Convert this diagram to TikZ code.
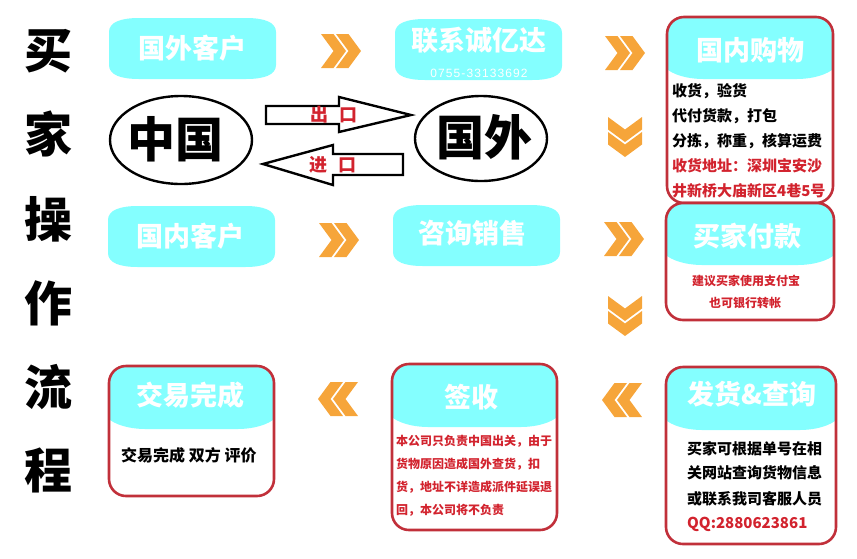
\documentclass[tikz,border=0pt]{standalone}
\usepackage{fontspec}
\setmainfont{Noto Sans CJK SC}
\newfontfamily\numfont[LetterSpace=9]{Liberation Sans}
\definecolor{cyanfill}{HTML}{84FFFF}
\definecolor{framered}{HTML}{C1303A}
\definecolor{textred}{HTML}{D2232E}
\definecolor{chevorange}{HTML}{F6A53A}
\tikzset{
  x=1pt,y=-1pt,
  headtext/.style={inner sep=0pt,text=white,font=\fontsize{27}{27}\selectfont\bfseries},
  titletext/.style={inner sep=0pt,font=\fontsize{48}{48}\selectfont\bfseries},
  bigtext/.style={inner sep=0pt,font=\fontsize{48}{48}\selectfont\bfseries},
  bodytext/.style={inner sep=0pt,anchor=west,font=\fontsize{15}{15}\selectfont\bfseries},
  smalltext/.style={inner sep=0pt,text=textred,font=\fontsize{12}{12}\selectfont\bfseries},
  porttext/.style={inner sep=0pt,text=textred,font=\fontsize{18}{18}\selectfont\bfseries},
  frameline/.style={draw=framered,line width=2.6pt,rounded corners=17pt},
  ringline/.style={draw=black,line width=2.4pt},
  portarrow/.style={draw=black,line width=2.4pt,fill=white,miter limit=10},
  dchev/.pic={
    \fill[chevorange] (-20,-17) -- (-7.5,-17) -- (5,0) -- (-7.5,17) -- (-20,17) -- (-7.5,0) -- cycle;
    \fill[chevorange] (-5,-17) -- (7.5,-17) -- (20,0) -- (7.5,17) -- (-5,17) -- (7.5,0) -- cycle;
  }
}
\newcommand{\pillshape}[4]{
  \fill[cyanfill] (#1,{#2+14}) .. controls (#1,{#2+4}) and ({#1+12},#2) .. ({#1+30},#2)
    -- ({#3-30},#2) .. controls ({#3-12},#2) and (#3,{#2+4}) .. (#3,{#2+14})
    -- (#3,{#4-14}) .. controls (#3,{#4-4}) and ({#3-12},#4) .. ({#3-30},#4)
    -- ({#1+30},#4) .. controls ({#1+12},#4) and (#1,{#4-4}) .. (#1,{#4-14}) -- cycle;
}
\newcommand{\headshape}[4]{
  \fill[cyanfill] (#1,{#4-9}) -- (#1,{#2+16}) .. controls (#1,{#2+6}) and ({#1+6},#2) .. ({#1+16},#2)
    -- ({#3-16},#2) .. controls ({#3-6},#2) and (#3,{#2+6}) .. (#3,{#2+16})
    -- (#3,{#4-9}) .. controls ({#3-10},{#4-2}) and ({#3-25},#4) .. ({#3-35},#4)
    -- ({#1+35},#4) .. controls ({#1+25},#4) and ({#1+10},{#4-2}) .. (#1,{#4-9}) -- cycle;
}
\begin{document}
\begin{tikzpicture}
\useasboundingbox (0,0) rectangle (857,558);
% side title
\node[titletext] (t1) at (48.5,51) {买};
\node[titletext] (t2) at (48.5,134) {家};
\node[titletext] (t3) at (48.5,219) {操};
\node[titletext] (t4) at (48.5,303) {作};
\node[titletext] (t5) at (48.5,387) {流};
\node[titletext] (t6) at (48.5,470) {程};
% pills
\pillshape{109}{18}{276}{79}
\node[headtext] (p1) at (192,48) {国外客户};
\pillshape{395}{19}{562}{80}
\node[headtext] (p2) at (479,40) {联系诚亿达};
\node[inner sep=0pt,text=white,font=\fontsize{12}{12}\selectfont\numfont] (p2b) at (479,73) {0755-33133692};
\pillshape{108}{206}{275}{267}
\node[headtext] (p3) at (190,236) {国内客户};
\pillshape{393}{205}{560}{266}
\node[headtext] (p4) at (472,233) {咨询销售};
% ellipses
\draw[ringline] (181,140) ellipse [x radius=71,y radius=44];
\node[bigtext] (cn) at (175,139) {中国};
\draw[ringline] (481,138.5) ellipse [x radius=66,y radius=42.5];
\node[bigtext] (fr) at (484,137) {国外};
% port arrows
\draw[portarrow] (266,106) -- (339,106) -- (339,97) -- (411,115) -- (339,132) -- (339,124) -- (266,124) -- cycle;
\node[porttext] (out) at (334,115) {出\hspace{12pt}口};
\draw[portarrow] (403,154) -- (333,154) -- (333,145) -- (263,164) -- (333,185) -- (333,175) -- (403,175) -- cycle;
\node[porttext] (in) at (333,165) {进\hspace{12pt}口};
% chevrons
\pic at (341,51) {dchev};
\pic at (625,53) {dchev};
\pic at (339,240) {dchev};
\pic at (624,239) {dchev};
\pic[rotate=-90] at (625,137) {dchev};
\pic[rotate=-90] at (625,316) {dchev};
\pic[rotate=180] at (338,399) {dchev};
\pic[rotate=180] at (622,400) {dchev};
% shopping box
\headshape{668}{18}{832}{79}
\draw[frameline] (667,17) rectangle (833,203);
\node[headtext] (b1) at (750,50) {国内购物};
\node[bodytext] (b1a) at (672,91) {收货，验货};
\node[bodytext] (b1b) at (672,116) {代付货款，打包};
\node[bodytext] (b1c) at (672,141) {分拣，称重，核算运费};
\node[bodytext,text=textred] (b1d) at (672,166) {收货地址：深圳宝安沙};
\node[bodytext,text=textred] (b1e) at (672,191) {井新桥大庙新区4巷5号};
% payment box
\headshape{667}{204}{833}{265}
\draw[frameline] (666,203) rectangle (834,320);
\node[headtext] (b2) at (747,236) {买家付款};
\node[smalltext] (b2a) at (746,281) {建议买家使用支付宝};
\node[smalltext] (b2b) at (745,303) {也可银行转帐};
% delivery box
\headshape{667}{368}{835}{430}
\draw[frameline] (666,367) rectangle (836,544);
\node[headtext] (b3) at (752,394) {发货\&查询};
\node[bodytext] (b3a) at (687,449) {买家可根据单号在相};
\node[bodytext] (b3b) at (687,473) {关网站查询货物信息};
\node[bodytext] (b3c) at (687,499) {或联系我司客服人员};
\node[bodytext,text=textred] (b3d) at (687,524) {QQ:2880623861};
% sign box
\headshape{393}{365}{556}{427}
\draw[frameline] (392,364) rectangle (557,530);
\node[headtext] (b4) at (471,397) {签收};
\node[smalltext,anchor=west] (b4a) at (396,441) {本公司只负责中国出关，由于};
\node[smalltext,anchor=west] (b4b) at (396,464) {货物原因造成国外查货，扣};
\node[smalltext,anchor=west] (b4c) at (396,487) {货，地址不详造成派件延误退};
\node[smalltext,anchor=west] (b4d) at (396,510) {回，本公司将不负责};
% done box
\headshape{110}{367}{273}{429}
\draw[frameline] (109,366) rectangle (274,496);
\node[headtext] (b5) at (190,395) {交易完成};
\node[bodytext,font=\fontsize{16}{16}\selectfont\bfseries] (b5a) at (121,455) {交易完成 双方 评价};
\end{tikzpicture}
\end{document}
